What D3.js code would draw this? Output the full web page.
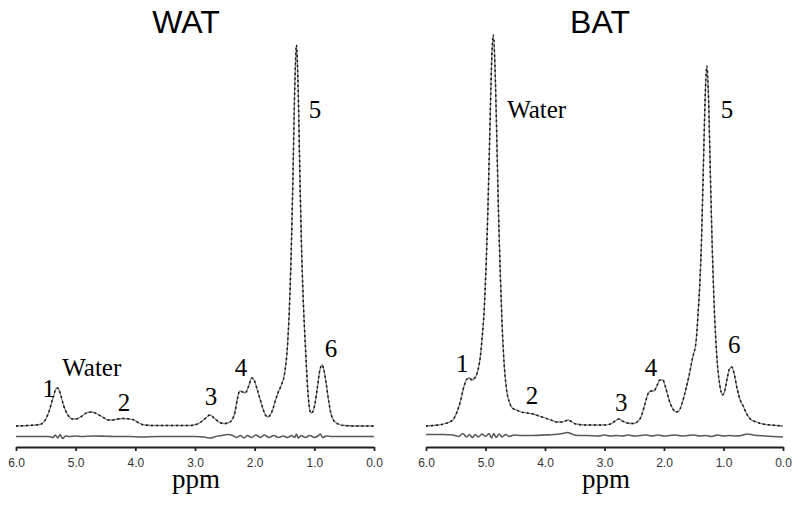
<!DOCTYPE html>
<html>
<head>
<meta charset="utf-8">
<script src="https://cdn.jsdelivr.net/npm/d3@7"></script>
<style>
  html, body { margin: 0; padding: 0; background: #fff; }
  svg { display: block; }
</style>
</head>
<body>
<svg id="chart" width="800" height="505"></svg>
<script>
// ---------- DATA (ppm, intensity in arbitrary units) ----------
const panelTitles = ["WAT", "BAT"];
const tickValues = [6, 5, 4, 3, 2, 1, 0];
const axisLabel = "ppm";

const watSpectrum = [
  [6.0,0],[5.8,0.5],[5.6,1.5],[5.52,5],[5.45,14],[5.38,28],[5.33,37],[5.3,38],[5.26,33],[5.2,20],
  [5.12,10],[5.05,7],[5.0,7],[4.92,9],[4.82,13],[4.73,14],[4.64,12],[4.55,9],[4.45,6],[4.38,6],
  [4.3,7],[4.2,7.5],[4.1,7],[4.02,6],[3.94,3],[3.85,1],[3.7,0.5],[3.4,0.5],[3.1,0.5],[2.98,1.5],
  [2.9,4],[2.82,8],[2.75,11],[2.68,8],[2.6,4],[2.52,2.5],[2.45,3],[2.38,6],[2.33,14],[2.29,27],
  [2.25,35],[2.2,34],[2.16,33],[2.1,40],[2.05,48],[2.01,46],[1.96,37],[1.91,27],[1.86,17],[1.82,11],
  [1.78,9],[1.74,11],[1.7,16],[1.66,24],[1.61,33],[1.56,40],[1.5,52],[1.45,80],[1.42,115],[1.39,168],
  [1.36,244],[1.33,334],[1.3,381],[1.27,334],[1.24,244],[1.21,168],[1.18,117],[1.15,80],[1.12,45],
  [1.09,22],[1.06,13],[1.03,14],[0.99,22],[0.95,38],[0.91,55],[0.87,61],[0.84,56],[0.8,42],[0.76,25],
  [0.72,12],[0.67,5],[0.6,2],[0.5,0.5],[0.3,0],[0.0,0]
];

const batSpectrum = [
  [6.0,0],[5.8,1],[5.65,3],[5.55,6],[5.48,14],[5.42,25],[5.36,40],[5.31,47],[5.27,48],[5.23,46],
  [5.18,48],[5.13,55],[5.09,68],[5.06,86],[5.02,118],[4.99,160],[4.96,216],[4.93,287],[4.9,359],
  [4.87,391],[4.84,359],[4.81,287],[4.78,210],[4.75,150],[4.72,100],[4.69,65],[4.65,38],[4.6,24],
  [4.55,18],[4.48,16],[4.4,14],[4.3,13],[4.2,12],[4.1,10],[4.0,8],[3.9,6],[3.8,4],[3.72,4],[3.66,5],
  [3.61,6],[3.56,4.5],[3.48,2],[3.3,1],[3.0,1],[2.9,2],[2.82,5],[2.76,7],[2.7,5],[2.62,3],[2.52,2.5],
  [2.45,4],[2.38,10],[2.32,22],[2.27,32],[2.22,35],[2.17,35],[2.12,40],[2.07,46],[2.02,46],[1.97,38],
  [1.92,27],[1.86,18],[1.8,14],[1.75,15],[1.7,22],[1.64,35],[1.58,50],[1.52,68],[1.46,85],[1.43,110],
  [1.4,140],[1.37,185],[1.34,255],[1.31,325],[1.28,360],[1.25,325],[1.22,250],[1.19,180],[1.16,125],
  [1.13,87],[1.1,60],[1.06,40],[1.02,31],[0.98,35],[0.94,47],[0.9,57],[0.86,59],[0.82,52],[0.77,37],
  [0.72,26],[0.67,20],[0.61,12],[0.55,7],[0.45,4],[0.34,2],[0.2,1],[0.0,0]
];

const watResidual = [
  [6.0,0],[5.6,0],[5.45,0],[5.38,-1],[5.34,1.5],[5.3,-1.5],[5.26,2],[5.22,-2],[5.17,0.5],[5.1,0],
  [5.0,0.5],[4.9,0],[4.7,0.5],[4.5,0.3],[4.3,0],[4.1,0],[3.9,-0.5],[3.6,0],[3.3,0],[3.0,0],
  [2.85,-0.5],[2.75,-1.5],[2.65,0],[2.55,1],[2.45,2],[2.37,1],[2.3,-1],[2.24,1],[2.18,-1.5],[2.12,1],
  [2.05,-1],[1.98,1.5],[1.9,-1],[1.84,1.5],[1.76,-1],[1.68,1],[1.6,-1],[1.52,0.5],[1.45,-1],[1.38,1],
  [1.33,-1],[1.3,2.5],[1.27,-1.5],[1.22,1],[1.15,-1],[1.08,1],[1.0,-1],[0.94,0.5],[0.9,2.5],[0.86,-1],
  [0.8,0.5],[0.7,0],[0.5,0],[0.0,0]
];

const batResidual = [
  [6.0,1],[5.7,1],[5.55,0.5],[5.45,-1],[5.38,2],[5.32,-1.5],[5.27,1],[5.22,-2],[5.17,1],[5.12,-1.5],
  [5.06,1.5],[5.0,-1],[4.94,2],[4.9,-2.5],[4.86,2],[4.82,-2],[4.77,1.5],[4.72,-1.5],[4.66,1],[4.6,-1],
  [4.52,0.5],[4.4,0],[4.2,0],[4.0,0.5],[3.85,1],[3.7,2],[3.62,3],[3.55,1.5],[3.45,0],[3.3,0],
  [3.1,-0.5],[3.0,0.5],[2.9,-0.5],[2.8,0],[2.7,-0.5],[2.6,0.5],[2.5,-0.5],[2.4,0],[2.3,0.5],[2.2,-0.5],
  [2.1,0.5],[2.0,-0.5],[1.9,0],[1.8,0.5],[1.7,-0.5],[1.6,0],[1.5,0.5],[1.4,-0.5],[1.3,0],[1.2,-1],
  [1.1,0.5],[1.0,-0.5],[0.9,0],[0.8,-0.5],[0.7,0],[0.6,1.5],[0.5,0.5],[0.3,-0.5],[0.0,-1.5]
];

// peak labels: [text, ppm, intensity]
const watLabels = [["1",5.45,29],["Water",4.73,50],["2",4.19,15],["3",2.73,21],["4",2.23,50],["5",0.99,308],["6",0.72,69]];
const batLabels = [["1",5.39,54],["Water",4.14,308],["2",4.22,22],["3",2.72,15],["4",2.22,50],["5",0.94,308],["6",0.82,73]];

// ---------- DRAWING ----------
const svg = d3.select("#chart");
const serif = "'Liberation Serif', 'Times New Roman', serif";
const sans = "'Liberation Sans', Arial, sans-serif";

const panels = [
  {title: panelTitles[0], spec: watSpectrum, resid: watResidual, labels: watLabels, x0: 16, x1: 374, residOffset: 10.5, titleX: 186, ppmX: 196},
  {title: panelTitles[1], spec: batSpectrum, resid: batResidual, labels: batLabels, x0: 426, x1: 783, residOffset: 9.5, titleX: 600, ppmX: 606}
];

const y = d3.scaleLinear().domain([0, 400]).range([426, 26]);
const axisY = 447;

panels.forEach(p => {
  const x = d3.scaleLinear().domain([6, 0]).range([p.x0, p.x1]);
  const g = svg.append("g");

  const line = d3.line().x(d => x(d[0])).y(d => y(d[1])).curve(d3.curveMonotoneX);
  const rline = d3.line().x(d => x(d[0])).y(d => y(d[1] - p.residOffset)).curve(d3.curveMonotoneX);

  // measured spectrum (grey solid)
  g.append("path").datum(p.spec).attr("d", line)
    .attr("fill", "none").attr("stroke", "#808080").attr("stroke-width", 1.3);
  // fitted spectrum (black dashed)
  g.append("path").datum(p.spec).attr("d", line)
    .attr("fill", "none").attr("stroke", "#111").attr("stroke-width", 1.5)
    .attr("stroke-dasharray", "2,3");
  // residual
  g.append("path").datum(p.resid).attr("d", rline)
    .attr("fill", "none").attr("stroke", "#5a5a5a").attr("stroke-width", 1.6);

  // axis
  const axis = d3.axisBottom(x).tickValues(tickValues).tickFormat(d3.format(".1f"))
    .tickSize(4).tickSizeOuter(0).tickPadding(7);
  const ag = g.append("g").attr("transform", `translate(0,${axisY})`).call(axis);
  ag.select(".domain").attr("stroke", "#222").attr("stroke-width", 2.2);
  ag.selectAll(".tick line").attr("stroke", "#222").attr("stroke-width", 1.8);
  ag.selectAll(".tick text").attr("font-family", sans).attr("font-size", 12).attr("fill", "#333");

  // axis title
  g.append("text").attr("x", p.ppmX).attr("y", 488).attr("text-anchor", "middle")
    .attr("font-family", serif).attr("font-size", 27).attr("fill", "#000").text(axisLabel);

  // panel title
  g.append("text").attr("x", p.titleX).attr("y", 33).attr("text-anchor", "middle")
    .attr("font-family", sans).attr("font-size", 32).attr("fill", "#000").text(p.title);

  // peak labels
  g.selectAll("text.peak").data(p.labels).enter().append("text").attr("class", "peak")
    .attr("x", d => x(d[1])).attr("y", d => y(d[2])).attr("text-anchor", "middle")
    .attr("font-family", serif).attr("font-size", 25).attr("fill", "#000").text(d => d[0]);
});
</script>
</body>
</html>
